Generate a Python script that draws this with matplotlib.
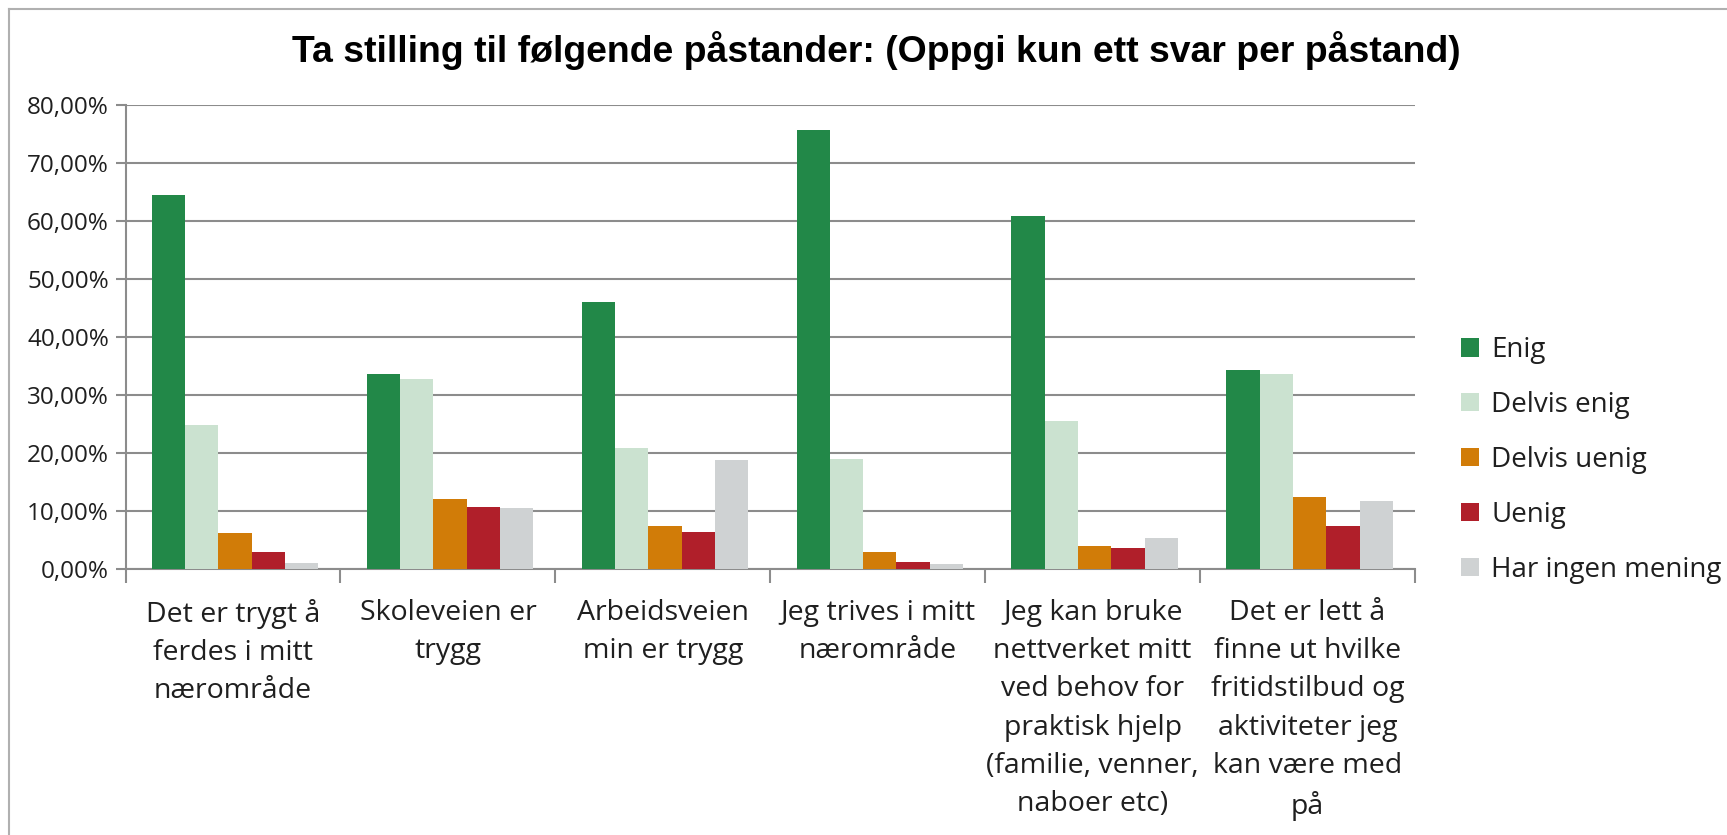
import numpy as np
import matplotlib.pyplot as plt
from matplotlib.ticker import FuncFormatter, FixedLocator
from matplotlib.lines import Line2D

# data
categories = [
    "Det er trygt å\nferdes i mitt\nnærområde",
    "Skoleveien er\ntrygg",
    "Arbeidsveien\nmin er trygg",
    "Jeg trives i mitt\nnærområde",
    "Jeg kan bruke\nnettverket mitt\nved behov for\npraktisk hjelp\n(familie, venner,\nnaboer etc)",
    "Det er lett å\nfinne ut hvilke\nfritidstilbud og\naktiviteter jeg\nkan være med\npå",
]
series_names = ["Enig", "Delvis enig", "Delvis uenig", "Uenig", "Har ingen mening"]
enig = [64.5, 33.6, 46.0, 75.6, 60.9, 34.4]
delvis_enig = [24.9, 32.8, 20.9, 19.0, 25.5, 33.6]
delvis_uenig = [6.2, 12.2, 7.4, 3.0, 4.0, 12.4]
uenig = [3.0, 10.7, 6.5, 1.3, 3.7, 7.5]
ingen_mening = [1.1, 10.5, 18.8, 0.9, 5.5, 11.8]
colors = ["#228848", "#cbe2d0", "#d17c08", "#b01f2a", "#cfd2d3"]

title = "Ta stilling til følgende påstander: (Oppgi kun ett svar per påstand)"

plt.rcParams['font.family'] = ['Open Sans', 'DejaVu Sans']
text_col = "#1f1f1f"
grid_col = "#8c8c8c"

fig = plt.figure(figsize=(17.27, 8.35), dpi=100)
ax = fig.add_axes([0.0727, 0.318, 0.7466, 0.5567])

values = [enig, delvis_enig, delvis_uenig, uenig, ingen_mening]
x = np.arange(len(categories))
w = 0.155
for j, (name, vals) in enumerate(zip(series_names, values)):
    ax.bar(x + (j - 2) * w + 0.01, vals, width=w, color=colors[j], label=name, zorder=3)

ax.set_xlim(-0.5, len(categories) - 0.5)
ax.set_ylim(0, 80)
ax.set_yticks(np.arange(0, 81, 10))
ax.yaxis.set_major_formatter(FuncFormatter(lambda v, p: f"{v:.2f}%".replace(".", ",")))
ax.yaxis.grid(True, color=grid_col, lw=1.5, zorder=0)
ax.tick_params(axis='y', length=7, color=grid_col, width=1.5, labelsize=17.5,
               labelcolor=text_col, pad=5)

ax.set_xticks(x)
ax.set_xticklabels(categories, fontsize=20.5, color=text_col, linespacing=1.49)
ax.tick_params(axis='x', length=0, pad=21)
ax.xaxis.set_minor_locator(FixedLocator(np.arange(-0.5, len(categories), 1)))
ax.tick_params(axis='x', which='minor', length=10, color=grid_col, width=1.5)

for s in ['top', 'right']:
    ax.spines[s].set_visible(False)
for s in ['left', 'bottom']:
    ax.spines[s].set_color(grid_col)
    ax.spines[s].set_linewidth(1.5)

fig.suptitle(title, x=876 / 1727, y=1 - 50 / 835, va='center',
             fontsize=26.9, fontweight='bold', family='Liberation Sans')

ax.legend(loc='center left', bbox_to_anchor=(1461 / 1727, 1 - 460 / 835),
          bbox_transform=fig.transFigure, frameon=False, fontsize=20,
          handlelength=0.64, handleheight=0.64, handletextpad=0.45,
          labelspacing=0.97, borderpad=0, borderaxespad=0, labelcolor=text_col)

# chart border (only left and top show in the crop)
fig.add_artist(Line2D([9 / 1727, 9 / 1727], [0, 1 - 9 / 835], color="#b0b0b0", lw=1.5,
                      transform=fig.transFigure))
fig.add_artist(Line2D([9 / 1727, 1], [1 - 9 / 835, 1 - 9 / 835], color="#b0b0b0", lw=1.5,
                      transform=fig.transFigure))

fig.savefig("out.png", dpi=100)
